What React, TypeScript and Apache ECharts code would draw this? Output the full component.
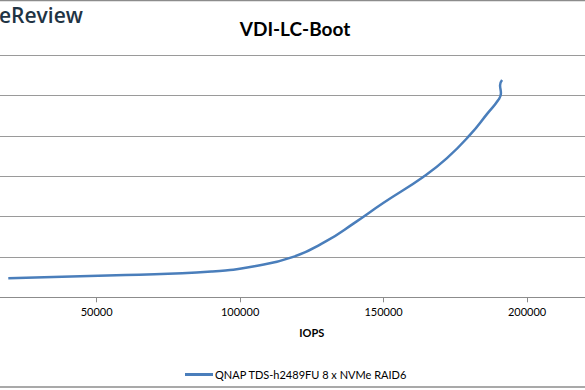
import React, { useEffect, useRef } from "react";
import * as echarts from "echarts";

const seriesName = "QNAP TDS-h2489FU 8 x NVMe RAID6";
const iops = [19200, 60000, 90000, 105000, 118500, 130000, 140000, 150000, 163800, 172000, 180100, 186300, 189900, 190900, 190600, 191300];
const latency = [0.47, 0.55, 0.64, 0.77, 1.0, 1.39, 1.85, 2.34, 2.98, 3.44, 4.02, 4.56, 4.88, 5.05, 5.25, 5.38];
const xMin = 0;
const xMax = 250000;
const xStep = 50000;
const yMin = 0;
const yMax = 6;
const yStep = 1;

export default function App() {
  const ref = useRef<HTMLDivElement>(null);
  useEffect(() => {
    if (!ref.current) return;
    const chart = echarts.init(ref.current, null, { renderer: "svg" });
    const font = "Lato, 'Open Sans', sans-serif";
    chart.setOption({
      animation: false,
      backgroundColor: "#ffffff",
      title: {
        text: "VDI-LC-Boot",
        left: 290,
        textAlign: "center",
        top: 14,
        textStyle: { fontFamily: font, fontWeight: "bold", fontSize: 19, color: "#000000" },
      },
      graphic: [
        { type: "line", shape: { x1: 0, y1: 0.5, x2: 585, y2: 0.5 }, style: { stroke: "#8c8c8c", lineWidth: 1.5 } },
        { type: "line", shape: { x1: 0, y1: 387, x2: 585, y2: 387 }, style: { stroke: "#8c8c8c", lineWidth: 1.5 } },
        {
          type: "text",
          left: -1,
          top: 4,
          style: { text: "eReview", fontFamily: "'Open Sans', sans-serif", fontSize: 21, fontWeight: 600, fill: "#1f3444" },
        },
      ],
      legend: {
        left: 180,
        top: 364,
        itemWidth: 28,
        itemHeight: 3,
        itemGap: 10,
        icon: "rect",
        textStyle: { fontFamily: font, fontSize: 11, color: "#000000", padding: [0, 0, 0, -3] },
        data: [seriesName],
      },
      grid: {
        left: -46.8,
        right: -85.5,
        top: 55,
        bottom: 92.7,
        containLabel: false,
        outerBoundsMode: "none",
      },
      xAxis: {
        type: "value",
        min: xMin,
        max: xMax,
        interval: xStep,
        name: "IOPS",
        nameLocation: "middle",
        nameGap: 30,
        nameTextStyle: { fontFamily: font, fontWeight: "bold", fontSize: 11, color: "#000000" },
        axisLine: { show: true, lineStyle: { color: "#8c8c8c", width: 1 } },
        axisTick: { show: true, length: 5, lineStyle: { color: "#8c8c8c" } },
        axisLabel: {
          fontFamily: font,
          fontSize: 11,
          color: "#000000",
          margin: 9,
          showMinLabel: false,
          showMaxLabel: false,
          formatter: (v: number) => String(v),
        },
        splitLine: { show: false },
      },
      yAxis: {
        type: "value",
        min: yMin,
        max: yMax,
        interval: yStep,
        axisLine: { show: false },
        axisTick: { show: false },
        axisLabel: { show: false },
        splitLine: { show: true, lineStyle: { color: "#9a9a9a", width: 1 } },
      },
      series: [
        {
          name: seriesName,
          type: "line",
          data: iops.map((x, i) => [x, latency[i]]),
          smooth: 0.5,
          showSymbol: false,
          symbol: "none",
          lineStyle: { color: "#4a7ebb", width: 2.5 },
          itemStyle: { color: "#4a7ebb" },
        },
      ],
    });
    return () => chart.dispose();
  }, []);
  return <div ref={ref} style={{ width: 585, height: 390, position: "absolute", left: 0, top: 0 }} />;
}
